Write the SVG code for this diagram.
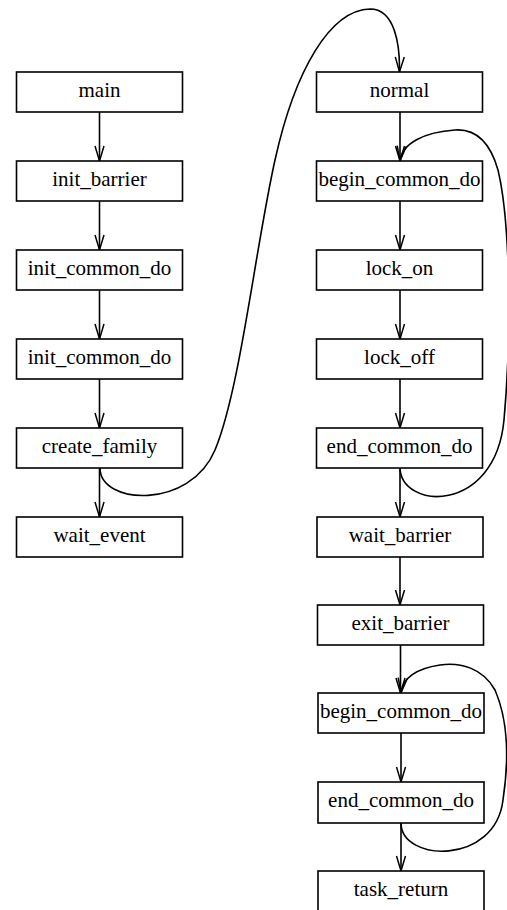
<svg xmlns="http://www.w3.org/2000/svg" width="507" height="910" viewBox="0 0 507 910">
  <style>
    .box rect { fill: #fff; stroke: #000; stroke-width: 1.6; }
    .box text { font-family: "Liberation Serif", "Times New Roman", serif; font-size: 21px; fill: #000; text-anchor: middle; }
    .edge { fill: none; stroke: #000; stroke-width: 1.6; marker-end: url(#arr); }
  </style>
  <defs>
    <marker id="arr" markerUnits="userSpaceOnUse" markerWidth="20" markerHeight="12" viewBox="0 0 20 12" refX="16" refY="6" orient="auto">
      <path d="M1,1.5 L16,6 L1,10.5" fill="none" stroke="#000" stroke-width="1.5"/>
    </marker>
  </defs>

  <rect width="507" height="910" fill="#fff"/>

  <!-- connectors -->
  <g id="edges">
    <!-- left column -->
    <path class="edge" d="M99.5,112 V161"/>
    <path class="edge" d="M99.5,201 V250"/>
    <path class="edge" d="M99.5,290 V339"/>
    <path class="edge" d="M99.5,379 V428"/>
    <path class="edge" d="M99.5,468 V517"/>
    <!-- create_family to normal -->
    <path class="edge" d="M100,468 C100,505 190,510 215,450 C240,390 255,250 275,160 C295,70 330,10 370,9 C395,9 400,45 399.5,72"/>
    <!-- right column -->
    <path class="edge" d="M400,112 V161"/>
    <path class="edge" d="M400,201 V250"/>
    <path class="edge" d="M400,290 V339"/>
    <path class="edge" d="M400,379 V428"/>
    <path class="edge" d="M400,468 V517"/>
    <path class="edge" d="M400,557 V605"/>
    <path class="edge" d="M400.5,645 V693"/>
    <path class="edge" d="M401,733 V782"/>
    <path class="edge" d="M401,823 V871"/>
    <!-- loop end_common_do to begin_common_do -->
    <path class="edge" d="M400,467 C400,510 495,515 504,420 C512,330 510,220 498,170 C488,135 470,129 455,130 C425,132 402,143 400,161"/>
    <!-- second loop -->
    <path class="edge" d="M401,823 C401,862 495,866 503,800 C509,760 508,720 495,690 C483,668 460,662 440,665 C420,668 403,675 401,693"/>
  </g>

  <!-- left column nodes -->
  <g id="main" class="box"><rect x="16.5" y="72" width="166" height="40"/><text x="99.5" y="97">main</text></g>
  <g id="init_barrier" class="box"><rect x="16.5" y="161" width="166" height="40"/><text x="99.5" y="186">init_barrier</text></g>
  <g id="init_common_do_1" class="box"><rect x="16.5" y="250" width="166" height="40"/><text x="99.5" y="275">init_common_do</text></g>
  <g id="init_common_do_2" class="box"><rect x="16.5" y="339" width="166" height="40"/><text x="99.5" y="364">init_common_do</text></g>
  <g id="create_family" class="box"><rect x="16.5" y="428" width="166" height="40"/><text x="99.5" y="453">create_family</text></g>
  <g id="wait_event" class="box"><rect x="16.5" y="517" width="166" height="40"/><text x="99.5" y="542">wait_event</text></g>

  <!-- right column nodes -->
  <g id="normal" class="box"><rect x="316.5" y="72" width="166" height="40"/><text x="399.5" y="97">normal</text></g>
  <g id="begin_common_do_1" class="box"><rect x="316.5" y="161" width="166" height="40"/><text x="399.5" y="186">begin_common_do</text></g>
  <g id="lock_on" class="box"><rect x="316.5" y="250" width="166" height="40"/><text x="399.5" y="275">lock_on</text></g>
  <g id="lock_off" class="box"><rect x="316.5" y="339" width="166" height="40"/><text x="399.5" y="364">lock_off</text></g>
  <g id="end_common_do_1" class="box"><rect x="316.5" y="428" width="166" height="40"/><text x="399.5" y="453">end_common_do</text></g>
  <g id="wait_barrier" class="box"><rect x="317" y="517" width="166" height="40"/><text x="400" y="542">wait_barrier</text></g>
  <g id="exit_barrier" class="box"><rect x="317.5" y="605" width="166" height="40"/><text x="400.5" y="630">exit_barrier</text></g>
  <g id="begin_common_do_2" class="box"><rect x="318" y="693" width="166" height="40"/><text x="401" y="718">begin_common_do</text></g>
  <g id="end_common_do_2" class="box"><rect x="318" y="782" width="166" height="41"/><text x="401" y="807">end_common_do</text></g>
  <g id="task_return" class="box"><rect x="318" y="871" width="166" height="45"/><text x="401" y="896">task_return</text></g>
</svg>
